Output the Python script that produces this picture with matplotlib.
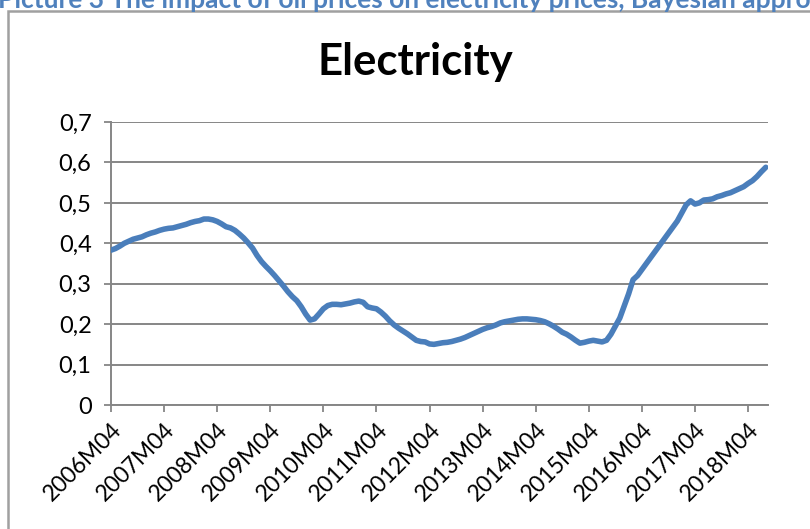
import numpy as np
import matplotlib.pyplot as plt
from matplotlib.patches import Rectangle

# monthly values, 2006M04 .. 2018M08
values = [
    0.383, 0.387, 0.393, 0.400, 0.405, 0.410, 0.413, 0.416, 0.421, 0.425, 0.428, 0.432,
    0.435, 0.437, 0.438, 0.441, 0.444, 0.447, 0.451, 0.454, 0.456, 0.460, 0.460, 0.458,
    0.454, 0.448, 0.441, 0.438, 0.432, 0.423, 0.413, 0.401, 0.388, 0.370, 0.355, 0.343,
    0.332, 0.320, 0.307, 0.294, 0.280, 0.268, 0.258, 0.243, 0.225, 0.210, 0.213, 0.225,
    0.238, 0.246, 0.249, 0.249, 0.248, 0.250, 0.252, 0.255, 0.257, 0.254, 0.243, 0.240,
    0.238, 0.230, 0.220, 0.208, 0.198, 0.190, 0.183, 0.176, 0.168, 0.160, 0.157, 0.156,
    0.151, 0.150, 0.152, 0.154, 0.155, 0.157, 0.160, 0.163, 0.167, 0.172, 0.177, 0.182,
    0.187, 0.191, 0.194, 0.198, 0.203, 0.206, 0.208, 0.210, 0.212, 0.213, 0.213, 0.212,
    0.211, 0.209, 0.206, 0.201, 0.195, 0.188, 0.180, 0.175, 0.168, 0.160, 0.153, 0.155,
    0.158, 0.160, 0.158, 0.156, 0.160, 0.175, 0.195, 0.215, 0.245, 0.275, 0.310, 0.320,
    0.335, 0.350, 0.365, 0.380, 0.395, 0.410, 0.425, 0.440, 0.455, 0.475, 0.495, 0.505,
    0.497, 0.500, 0.507, 0.508, 0.510, 0.515, 0.518, 0.522, 0.525, 0.530, 0.535, 0.540,
    0.548, 0.555, 0.565, 0.577, 0.588,
]
years = list(range(2006, 2019))
tick_labels = [f"{y}M04" for y in years]
y_ticks = [0, 0.1, 0.2, 0.3, 0.4, 0.5, 0.6, 0.7]

W, H = 810, 529
fig = plt.figure(figsize=(W / 100, H / 100), dpi=100)
plt.rcParams['font.family'] = ['Lato', 'DejaVu Sans']

# chart border (cropped screenshot)
fig.patches.append(Rectangle((8 / W, -0.1), 1.2, 1 - 11 / H + 0.1, transform=fig.transFigure,
                             fill=False, edgecolor='#a0a0a0', linewidth=1.8))

# caption, cut off at the top as in the screenshot
fig.text(-2 / W, 1 - 8 / H, "Picture 3 The impact of oil prices on electricity prices, Bayesian approach",
         color='#4f81bd', fontsize=19, fontweight='bold', va='baseline', ha='left')

ax = fig.add_axes([111 / W, 1 - 405 / H, (768 - 111) / W, (405 - 122) / H])
x = np.arange(len(values))
ax.plot(x, values, color='#4a7ebb', linewidth=4.0, solid_capstyle='round', zorder=3)

ax.set_xlim(0, 148.5)
ax.set_ylim(0, 0.7)
ax.set_yticks(y_ticks)
ax.set_yticklabels([f"{v:.1f}".replace('.', ',') if v else "0" for v in y_ticks], fontsize=17)
ax.set_xticks(np.arange(0, 12 * len(years), 12))
ax.set_xticklabels(tick_labels, rotation=45, ha='right', rotation_mode='anchor', fontsize=16.5)
ax.tick_params(axis='both', direction='out', length=5, color='#868686', width=1.3, pad=5)
ax.tick_params(axis='y', pad=9)

ax.grid(axis='y', color='#868686', linewidth=1.4)
ax.set_axisbelow(True)
for s in ['top', 'right']:
    ax.spines[s].set_visible(False)
for s in ['left', 'bottom']:
    ax.spines[s].set_color('#868686')
    ax.spines[s].set_linewidth(1.4)

fig.text(415 / W, 1 - 62 / H, "Electricity", fontsize=31.5, fontweight='bold', ha='center', va='center')

fig.savefig('out.png', dpi=100)
